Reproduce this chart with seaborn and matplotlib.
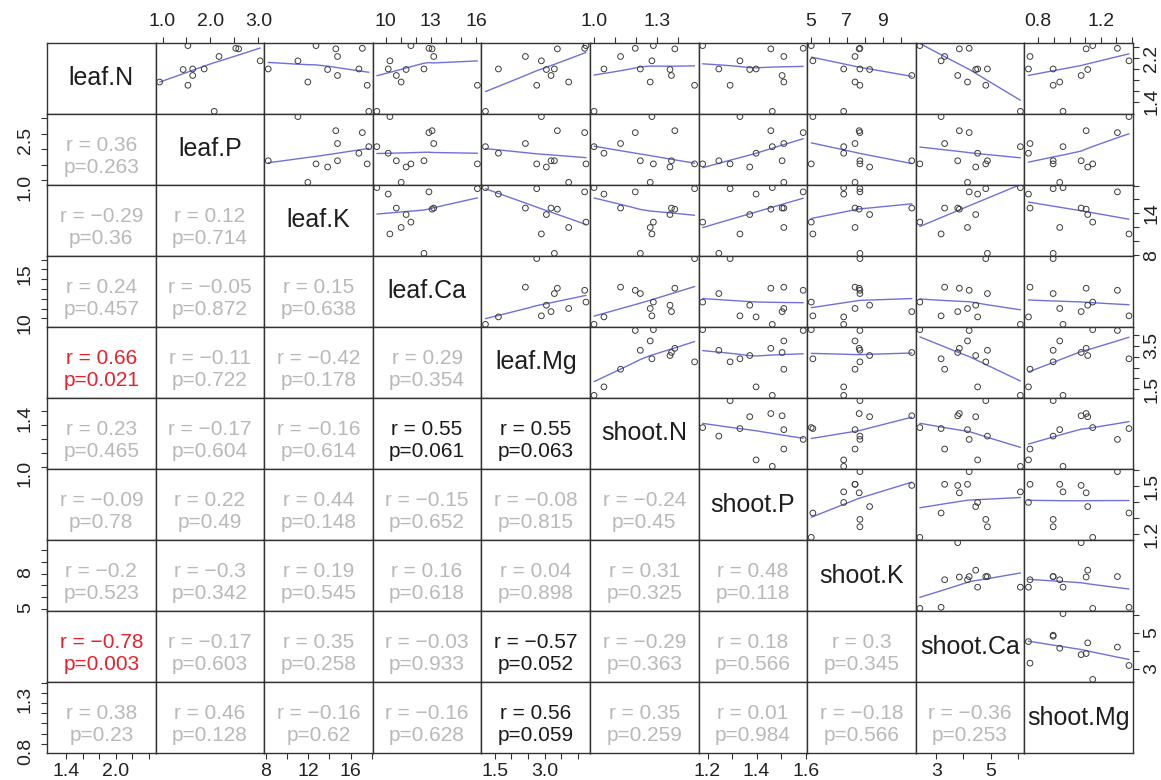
import numpy as np
import pandas as pd
import matplotlib
matplotlib.use("Agg")
import matplotlib.pyplot as plt
import seaborn as sns
from matplotlib.ticker import FixedLocator, FuncFormatter

# ---------------- data (12 observations) ----------------
variables = ["leaf.N", "leaf.P", "leaf.K", "leaf.Ca", "leaf.Mg",
             "shoot.N", "shoot.P", "shoot.K", "shoot.Ca", "shoot.Mg"]

leaf_N = [1.76, 2.43, 1.99, 2.00, 1.88, 1.70, 2.00, 2.23, 2.38, 2.37, 1.22, 2.15]
leaf_P = [0.94, 1.53, 1.43, 1.63, 1.63, 1.53, 1.87, 2.18, 2.53, 2.59, 2.08, 3.04]
leaf_K = [11.97, 12.74, 13.83, 8.25, 14.76, 17.55, 16.77, 14.76, 17.09, 14.60, 17.70, 11.04]
leaf_Ca = [11.02, 11.67, 11.35, 12.54, 10.70, 16.10, 10.16, 13.19, 12.87, 13.08, 9.40, 10.27]
leaf_Mg = [3.72, 4.24, 3.05, 3.29, 3.19, 2.76, 1.61, 2.42, 4.20, 3.38, 1.22, 2.90]
shoot_N = [1.268, 1.283, 1.362, 1.221, 1.369, 1.479, 1.048, 1.127, 1.197, 1.385, 1.001, 1.276]
shoot_P = [1.511, 1.180, 1.372, 1.246, 1.504, 1.292, 1.398, 1.511, 1.590, 1.458, 1.464, 1.332]
shoot_K = [7.47, 5.04, 8.28, 7.74, 10.62, 7.74, 6.84, 7.47, 7.74, 7.70, 6.84, 5.13]
shoot_Ca = [4.15, 2.40, 4.45, 4.88, 3.79, 4.82, 4.52, 3.31, 4.21, 3.85, 6.09, 3.18]
shoot_Mg = [0.937, 1.148, 1.116, 0.895, 1.074, 0.895, 0.737, 0.747, 1.306, 1.106, 0.958, 1.380]

# lower-triangle correlation annotations, row by row (row 2 .. row 10)
r_vals = [
    [0.36],
    [-0.29, 0.12],
    [0.24, -0.05, 0.15],
    [0.66, -0.11, -0.42, 0.29],
    [0.23, -0.17, -0.16, 0.55, 0.55],
    [-0.09, 0.22, 0.44, -0.15, -0.08, -0.24],
    [-0.2, -0.3, 0.19, 0.16, 0.04, 0.31, 0.48],
    [-0.78, -0.17, 0.35, -0.03, -0.57, -0.29, 0.18, 0.3],
    [0.38, 0.46, -0.16, -0.16, 0.56, 0.35, 0.01, -0.18, -0.36],
]
p_vals = [
    [0.263],
    [0.36, 0.714],
    [0.457, 0.872, 0.638],
    [0.021, 0.722, 0.178, 0.354],
    [0.465, 0.604, 0.614, 0.061, 0.063],
    [0.78, 0.49, 0.148, 0.652, 0.815, 0.45],
    [0.523, 0.342, 0.545, 0.618, 0.898, 0.325, 0.118],
    [0.003, 0.603, 0.258, 0.933, 0.052, 0.363, 0.566, 0.345],
    [0.23, 0.128, 0.62, 0.628, 0.059, 0.259, 0.984, 0.566, 0.253],
]

# axis ticks and the tick labels drawn on the outer x side / outer y side
ticks = {
    "leaf.N": [1.4, 1.6, 1.8, 2.0, 2.2, 2.4],
    "leaf.P": [1.0, 1.5, 2.0, 2.5, 3.0],
    "leaf.K": [8, 10, 12, 14, 16, 18],
    "leaf.Ca": [10, 11, 12, 13, 14, 15, 16],
    "leaf.Mg": [1.5, 2.0, 2.5, 3.0, 3.5, 4.0],
    "shoot.N": [1.0, 1.1, 1.2, 1.3, 1.4],
    "shoot.P": [1.2, 1.3, 1.4, 1.5, 1.6],
    "shoot.K": [5, 6, 7, 8, 9, 10],
    "shoot.Ca": [3, 4, 5, 6],
    "shoot.Mg": [0.8, 0.9, 1.0, 1.1, 1.2, 1.3, 1.4],
}
x_labels = {
    "leaf.N": ["1.4", "2.0"], "leaf.P": ["1.0", "2.0", "3.0"],
    "leaf.K": ["8", "12", "16"], "leaf.Ca": ["10", "13", "16"],
    "leaf.Mg": ["1.5", "3.0"], "shoot.N": ["1.0", "1.3"],
    "shoot.P": ["1.2", "1.4", "1.6"], "shoot.K": ["5", "7", "9"],
    "shoot.Ca": ["3", "5"], "shoot.Mg": ["0.8", "1.2"],
}
y_labels = {
    "leaf.N": ["1.4", "2.2"], "leaf.P": ["1.0", "2.5"],
    "leaf.K": ["8", "14"], "leaf.Ca": ["10", "15"],
    "leaf.Mg": ["1.5", "3.5"], "shoot.N": ["1.0", "1.4"],
    "shoot.P": ["1.2", "1.5"], "shoot.K": ["5", "8"],
    "shoot.Ca": ["3", "5"], "shoot.Mg": ["0.8", "1.3"],
}

df = pd.DataFrame({
    "leaf.N": leaf_N, "leaf.P": leaf_P, "leaf.K": leaf_K, "leaf.Ca": leaf_Ca,
    "leaf.Mg": leaf_Mg, "shoot.N": shoot_N, "shoot.P": shoot_P,
    "shoot.K": shoot_K, "shoot.Ca": shoot_Ca, "shoot.Mg": shoot_Mg,
})


def smooth(x, y, f=1.0, widen=1.8, iters=3):
    """Robust locally-weighted linear smoother (lowess-type, wide span)."""
    x = np.asarray(x, float)
    y = np.asarray(y, float)
    order = np.argsort(x, kind="mergesort")
    x, y = x[order], y[order]
    n = len(x)
    ns = max(min(int(np.floor(f * n + 1e-7)), n), 2)
    rw = np.ones(n)
    fit = y.copy()
    xr = x.max() - x.min()
    for it in range(iters + 1):
        for i in range(n):
            d = np.abs(x - x[i])
            h = np.sort(d)[ns - 1] * widen
            if h > 0:
                q = d / h
                w = np.where(q <= 0.999, (1 - np.clip(q, 0, 1) ** 3) ** 3, 0.0)
                w = np.where(q <= 0.001, 1.0, w)
            else:
                w = (d == 0).astype(float)
            w = w * rw
            sw = w.sum()
            if sw <= 0:
                fit[i] = y[i]
                continue
            w = w / sw
            a = np.sum(w * x)
            b = np.sum(w * (x - a) ** 2)
            if np.sqrt(b) > 0.001 * xr:
                ww = w * (1 + (x[i] - a) * (x - a) / b)
            else:
                ww = w
            fit[i] = np.sum(ww * y)
        if it == iters:
            break
        res = y - fit
        cmad = 6 * np.median(np.abs(res))
        if cmad < 1e-7 * np.mean(np.abs(y)):
            break
        rr = np.abs(res) / cmad
        rw = np.where(rr <= 0.001, 1.0, np.where(rr <= 0.999, (1 - rr ** 2) ** 2, 0.0))
    return x, fit


# ---------------- figure ----------------
sns.set_theme(style="white")
plt.rcParams["font.family"] = ["Liberation Sans", "DejaVu Sans"]

g = sns.PairGrid(df, vars=variables, height=0.78, aspect=1.53, despine=False)
fig = g.figure
fig.set_size_inches(11.61, 7.80)
fig.set_facecolor("white")

nv = len(variables)
limits = {}
for v in variables:
    lo, hi = df[v].min(), df[v].max()
    pad = 0.04 * (hi - lo)
    limits[v] = (lo - pad, hi + pad)

point_col = "#3c3c3c"
line_col = "#7070dc"

for i in range(nv):
    for j in range(nv):
        ax = g.axes[i, j]
        vi, vj = variables[i], variables[j]
        if i < j:
            sns.scatterplot(x=df[vj], y=df[vi], ax=ax, marker="o", s=17,
                            facecolor="none", edgecolor=point_col,
                            linewidth=0.7, legend=False, zorder=3)
            lx, ly = smooth(df[vj], df[vi])
            ax.plot(lx, ly, color=line_col, lw=1.0, zorder=2)
        elif i == j:
            ax.text(0.5, 0.5, vi, transform=ax.transAxes, ha="center",
                    va="center", fontsize=18, color="#1e1e1e")
        else:
            r = r_vals[i - 1][j]
            p = p_vals[i - 1][j]
            if p < 0.05:
                c = "#e8202c"
            elif p < 0.1:
                c = "#1a1a1a"
            else:
                c = "#b9b9b9"
            rs = f"{r:g}".replace("-", "\u2212")
            ps = f"{p:g}"
            ax.text(0.5, 0.40, f"r = {rs}\np={ps}", transform=ax.transAxes,
                    ha="center", va="center", fontsize=15, color=c,
                    linespacing=1.2)
        ax.set_xlabel("")
        ax.set_ylabel("")

# limits, ticks and formatters (shared along columns / rows)
for k, v in enumerate(variables):
    lo, hi = limits[v]
    tv = [t for t in ticks[v] if lo <= t <= hi]
    xl = {float(s): s for s in x_labels[v]}
    yl = {float(s): s for s in y_labels[v]}

    axc = g.axes[0, k]
    axc.set_xlim(lo, hi)
    axc.xaxis.set_major_locator(FixedLocator(tv))
    axc.xaxis.set_major_formatter(
        FuncFormatter(lambda val, pos, d=xl: next((s for key, s in d.items() if abs(key - val) < 1e-6), "")))

    axr = g.axes[k, 0]
    axr.set_ylim(lo, hi)
    axr.yaxis.set_major_locator(FixedLocator(tv))
    axr.yaxis.set_major_formatter(
        FuncFormatter(lambda val, pos, d=yl: next((s for key, s in d.items() if abs(key - val) < 1e-6), "")))

for i in range(nv):
    for j in range(nv):
        ax = g.axes[i, j]
        top = (i == 0 and j % 2 == 1)
        bottom = (i == nv - 1 and j % 2 == 0)
        left = (j == 0 and i % 2 == 1)
        right = (j == nv - 1 and i % 2 == 0)
        ax.tick_params(axis="x", which="both", top=top, bottom=bottom,
                       labeltop=top, labelbottom=bottom, direction="out",
                       length=4.5, width=0.8, color="#333333",
                       labelsize=14, labelcolor="#222222",
                       pad=5 if top else 2.5)
        ax.tick_params(axis="y", which="both", left=left, right=right,
                       labelleft=left, labelright=right, direction="out",
                       length=4.5, width=0.8, color="#333333",
                       labelsize=14, labelcolor="#222222",
                       labelrotation=90, pad=5 if left else 3)
        if right:
            for lab in ax.get_yticklabels():
                lab.set_verticalalignment("center")
        for sp in ax.spines.values():
            sp.set_color("#333333")
            sp.set_linewidth(1.0)
        ax.grid(False)
        ax.set_facecolor("white")

fig.subplots_adjust(left=0.0405, right=0.9759, bottom=0.0346, top=0.9449,
                    wspace=0, hspace=0)
fig.savefig("out.png", dpi=100, facecolor="white")
